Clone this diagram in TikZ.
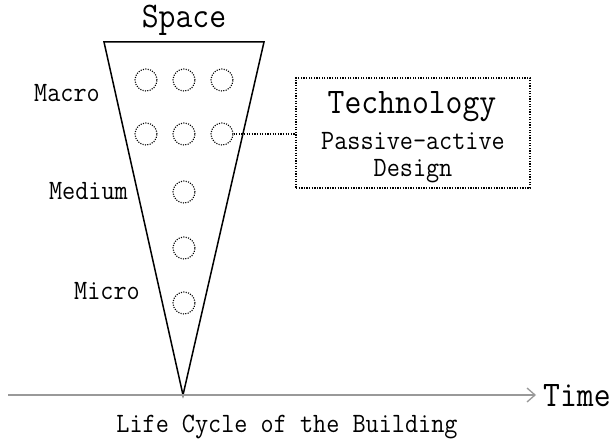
\documentclass[tikz,border=0pt]{standalone}
\usepackage{fontspec}
\setmainfont{Latin Modern Roman}
\newfontfamily\refmono[FakeStretch=0.91]{Latin Modern Mono}
\usetikzlibrary{arrows.meta}
\tikzset{
  small/.style={font={\refmono\fontsize{28}{30}\selectfont}, inner sep=0pt},
  big/.style={font={\refmono\fontsize{36}{38}\selectfont}, inner sep=0pt},
  dotcircle/.style={circle, draw, minimum size=22pt, inner sep=0pt, line width=1.1pt, dash pattern=on 1.1pt off 1.3pt},
  dotline/.style={line width=1.3pt, dash pattern=on 1.3pt off 1.3pt},
}
\begin{document}
\begin{tikzpicture}[x=1pt,y=-1pt]
\useasboundingbox (0,0) rectangle (611,441);
% triangle
\coordinate (tl) at (104,42);
\coordinate (tr) at (264,42);
\coordinate (apex) at (183,395);
\draw[line width=1.5pt, line join=miter] (tl) -- (tr) -- (apex) -- cycle;
\node[big, anchor=base] (space) at (184,28) {Space};
% circles
\node[dotcircle] (c11) at (146,80) {};
\node[dotcircle] (c12) at (184,80) {};
\node[dotcircle] (c13) at (222,80) {};
\node[dotcircle] (c21) at (146,134) {};
\node[dotcircle] (c22) at (184,134) {};
\node[dotcircle] (c23) at (222,134) {};
\node[dotcircle] (c3) at (184,192) {};
\node[dotcircle] (c4) at (184,248) {};
\node[dotcircle] (c5) at (184,303) {};
% labels
\node[small, anchor=base east] (macro) at (100,102) {Macro};
\node[small, anchor=base east] (medium) at (128,200) {Medium};
\node[small, anchor=base east] (micro) at (140,299) {Micro};
% technology box
\node[dotline, draw, minimum width=234pt, minimum height=110pt, inner sep=0pt] (box) at (413,133) {};
\node[big, anchor=base] (tech) at (412,114) {Technology};
\node[small, anchor=base] (pa) at (413,150) {Passive-active};
\node[small, anchor=base] (design) at (413,177) {Design};
\draw[dotline] (c23.east) -- (box.west |- c23.east);
% axis
\coordinate (axstart) at (8,395);
\node[big, anchor=base west] (time) at (543,406) {Time};
\coordinate (axend) at (536,395);
\draw[draw=gray!80, line width=1.8pt, -{Straight Barb[length=8pt, width=14pt, line width=1.3pt]}] (axstart) -- (axend);
\node[small, anchor=base] (life) at (287,432) {Life Cycle of the Building};
\end{tikzpicture}
\end{document}
